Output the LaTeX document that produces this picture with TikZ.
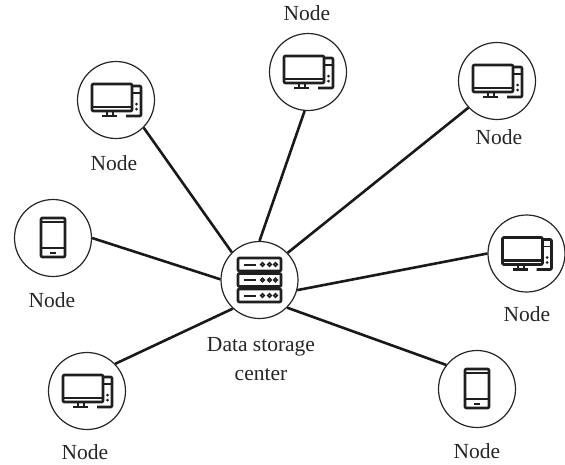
\documentclass[tikz,border=0pt]{standalone}
\usepackage{fontspec}
\setmainfont{Liberation Serif}
\tikzset{
  hub/.style={circle,draw=black!85,line width=1.2pt,minimum size=77pt,inner sep=0pt},
  link/.style={draw=black!90,line width=2.6pt},
  lab/.style={font=\fontsize{21.5}{29}\selectfont,align=center,text=black!85,inner sep=0pt},
  icon/.style={draw=black!88,line width=2.6pt,line join=round,rounded corners=1pt},
  pics/pc/.style={code={
    \draw[icon] (16,-14) -- (25,-14) -- (25,16) -- (10,16);
    \draw[icon,fill=white] (-24,-16) rectangle (16,11);
    \draw[icon] (-24,7) -- (16,7);
    \draw[icon,line width=2pt] (-9,11) -- (-9,16) (-3,11) -- (-3,16);
    \draw[icon] (-14,16) -- (1,16);
    \draw[icon,line width=1.8pt] (16,-7) -- (24,-7);
    \fill[black!88] (20.5,4) circle (1.5) (20.5,9) circle (1.5);
  }},
  pics/phone/.style={code={
    \draw[icon] (-12,-20) rectangle (12,19);
    \draw[icon,line width=1.8pt] (-12,-16) -- (12,-16) (-12,10) -- (12,10);
    \draw[icon,line width=2pt] (-3,15) -- (3,15);
  }},
  pics/rack/.style={code={
    \foreach \y in {-15.5,0,15.5}{
      \draw[icon] (-21.5,\y-6.5) rectangle (21.5,\y+6.5);
      \draw[icon,line width=2pt] (-16,\y) -- (-4,\y);
      \foreach \x in {3,10,16}\draw[draw=black!88,line width=1.6pt] (\x,\y) circle (1.8);
    }
    \draw[icon,line width=2pt] (-15,-9) -- (-15,-6.5) (15,-9) -- (15,-6.5) (-15,6.5) -- (-15,9) (15,6.5) -- (15,9);
  }}
}
\begin{document}
\begin{tikzpicture}[x=1pt,y=-1pt]
\useasboundingbox (0,0) rectangle (565,464);
\node[hub] (c) at (259.5,280) {};
\node[hub] (a) at (116,100) {};
\node[hub] (b) at (308,72) {};
\node[hub] (d) at (497,81) {};
\node[hub] (e) at (526.5,253.5) {};
\node[hub] (f) at (477,389) {};
\node[hub] (g) at (87,391) {};
\node[hub] (h) at (53,238) {};
\draw[link] (a.-45) -- (c.135);
\draw[link] (b.-95) -- (c.90);
\draw[link] (d.-137) -- (c.44);
\draw[link] (e.180) -- (c.-15);
\draw[link] (f.142) -- (c.-45);
\draw[link] (g.44) -- (c.-133);
\draw[link] (h.0) -- (c.179);
\pic at (c) {rack};
\pic at (a) {pc};
\pic at (b) {pc};
\pic at (d) {pc};
\pic at (e) {pc};
\pic at (g) {pc};
\pic at (h) {phone};
\pic at (f) {phone};
\node[lab] (tc) at (261,359) {Data storage\\center};
\node[lab] (ta) at (114,163) {Node};
\node[lab] (tb) at (307,13) {Node};
\node[lab] (td) at (499,137) {Node};
\node[lab] (te) at (527,314) {Node};
\node[lab] (tf) at (477,451) {Node};
\node[lab] (tg) at (85,452) {Node};
\node[lab] (th) at (52,300) {Node};
\end{tikzpicture}
\end{document}
